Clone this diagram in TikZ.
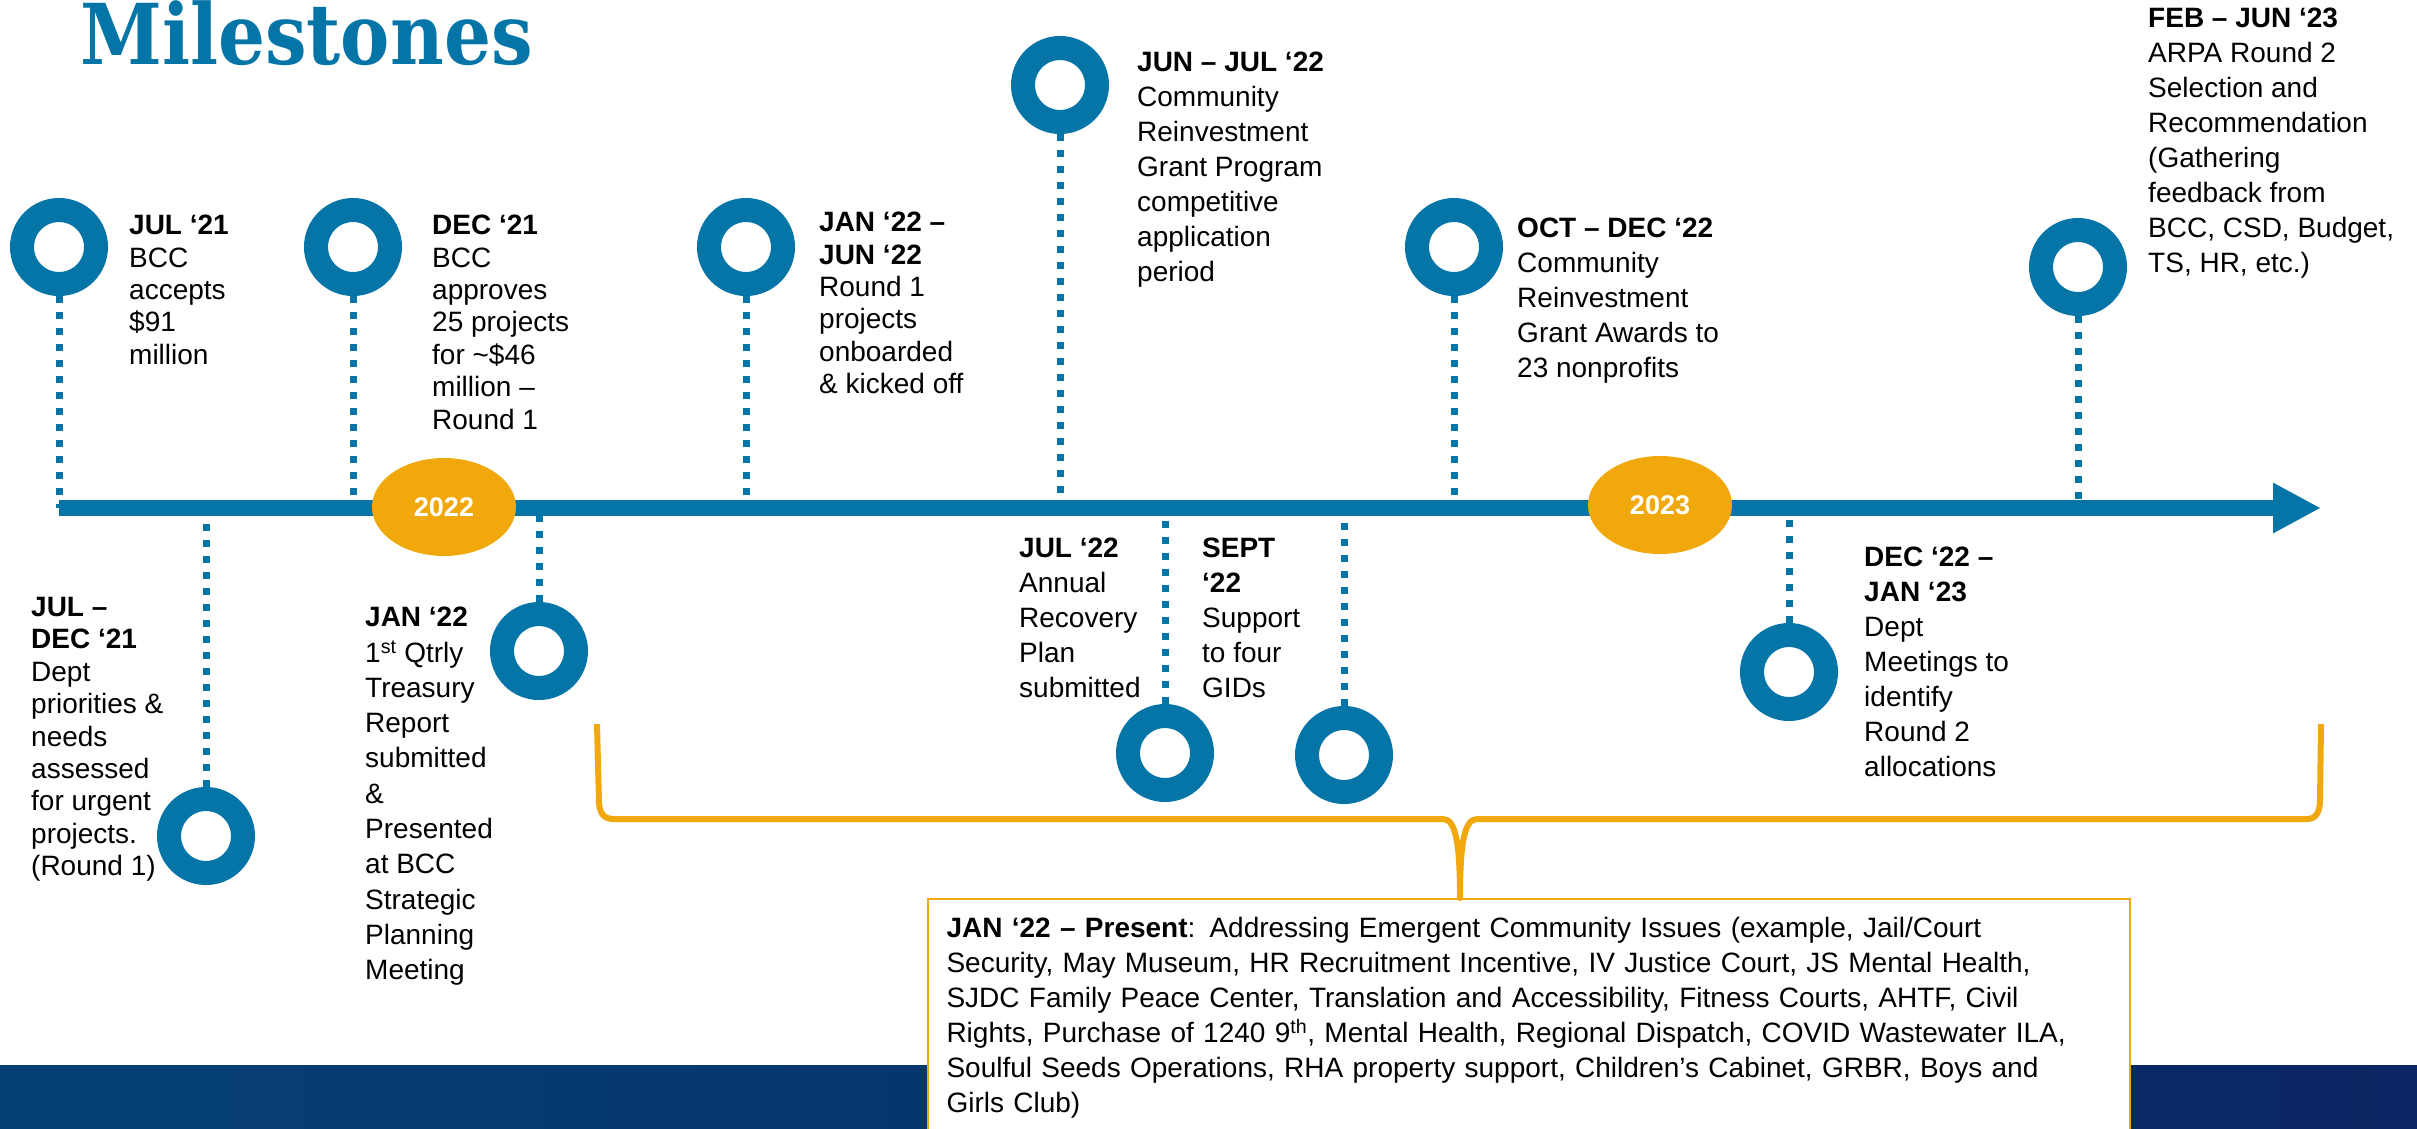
\documentclass[tikz,border=0pt]{standalone}
\usepackage{fontspec}
\setmainfont{Liberation Sans}
\newfontfamily\titlefont{DejaVu Serif}
\usepackage{graphicx}
\usetikzlibrary{calc}
\usetikzlibrary{positioning}
\usetikzlibrary{shapes.geometric}
\usetikzlibrary{arrows.meta}
\definecolor{tlblue}{RGB}{5,117,168}
\definecolor{tlgold}{RGB}{240,168,13}
\definecolor{footA}{RGB}{4,64,118}
\definecolor{footB}{RGB}{8,96,156}
\definecolor{footC}{RGB}{10,38,98}
\tikzstyle{ring} = [draw=tlblue, fill=white, circle, line width=24pt, minimum size=74pt, inner sep=0]
\tikzstyle{yearnode} = [ellipse, fill=tlgold, text=white, minimum width=144pt, minimum height=98pt, inner sep=0, font=\fontsize{27}{30}\selectfont\bfseries]
\tikzstyle{dotline} = [tlblue, line width=7pt, dash pattern=on 7pt off 9pt]
\tikzstyle{lbl} = [anchor=north west, align=left, inner sep=0, font=\fontsize{28}{35}\selectfont]
\tikzstyle{lbltight} = [lbl, font=\fontsize{28}{32.4}\selectfont]
\tikzstyle{brace} = [tlgold, line width=6pt, line join=round]
\tikzstyle{presentbox} = [draw=tlgold, line width=2pt, fill=white, align=left, text width=1165pt, inner sep=18.5pt, font=\fontsize{28}{35}\selectfont]

\begin{document}
\begin{tikzpicture}[x=1pt, y=-1pt]
    \useasboundingbox (0,0) rectangle (2417,1128);
    \shade[left color=footA, middle color=footB, right color=footC] (0,1065) rectangle (2417,1128);

    \node[anchor=base west, inner sep=0, text=tlblue, font=\titlefont\bfseries\fontsize{84}{90}\selectfont] (title) at (80,64) {\scalebox{0.88}[1]{Milestones}};

    \coordinate (tl_start) at (59,508);
    \coordinate (tl_end) at (2321,508);

    % above the line
    \node[ring] (jul21) at (59,247) {};
    \node[ring] (dec21) at (353,247) {};
    \node[ring] (jan22) at (746,247) {};
    \node[ring] (junjul22) at (1060,85) {};
    \node[ring] (octdec22) at (1454,247) {};
    \node[ring] (febjun23) at (2078,267) {};

    % below the line
    \node[ring] (juldec21) at (206,836) {};
    \node[ring] (jan22q) at (539,651) {};
    \node[ring] (jul22) at (1165,753) {};
    \node[ring] (sept22) at (1344,755) {};
    \node[ring] (decjan23) at (1789,672) {};

    \foreach \m in {jul21, dec21, jan22, junjul22, octdec22, febjun23}
        \draw[dotline] (\m.south) -- (\m.south |- tl_start);
    \foreach \m in {juldec21, jan22q, jul22, sept22, decjan23}
        \draw[dotline] (\m.north) -- (\m.north |- tl_start);

    \draw[line width=16pt, tlblue, -{Triangle[length=48pt, width=47pt]}] (tl_start) -- (tl_end);
    \node[yearnode] (y2022) at (444,507) {2022};
    \node[yearnode] (y2023) at (1660,505) {2023};

    \node[lbltight] (jul21_txt) at ($(jul21)+(70,-32)$) {\textbf{JUL ‘21}\\BCC\\accepts\\\$91\\million};
    \node[lbltight] (dec21_txt) at ($(dec21)+(79,-32)$) {\textbf{DEC ‘21}\\BCC\\approves\\25 projects\\for \textasciitilde\$46\\million –\\Round 1};
    \node[lbltight] (jan22_txt) at ($(jan22)+(73,-35)$) {\textbf{JAN ‘22 –}\\\textbf{JUN ‘22}\\Round 1\\projects\\onboarded\\\& kicked off};
    \node[lbl] (junjul22_txt) at ($(junjul22)+(77,-33)$) {\textbf{JUN – JUL ‘22}\\Community\\Reinvestment\\Grant Program\\competitive\\application\\period};
    \node[lbl] (octdec22_txt) at ($(octdec22)+(63,-29)$) {\textbf{OCT – DEC ‘22}\\Community\\Reinvestment\\Grant Awards to\\23 nonprofits};
    \node[lbl] (febjun23_txt) at (2148,8) {\textbf{FEB – JUN ‘23}\\ARPA Round 2\\Selection and\\Recommendation\\(Gathering\\feedback from\\BCC, CSD, Budget,\\TS, HR, etc.)};

    \node[lbltight] (juldec21_txt) at (31,597) {\textbf{JUL –}\\\textbf{DEC ‘21}\\Dept\\priorities \&\\needs\\assessed\\for urgent\\projects.\\(Round 1)};
    \node[lbl, font=\fontsize{28}{35.3}\selectfont] (jan22q_txt) at (365,607) {\textbf{JAN ‘22}\\1\textsuperscript{st} Qtrly\\Treasury\\Report\\submitted\\\&\\Presented\\at BCC\\Strategic\\Planning\\Meeting};
    \node[lbl] (jul22_txt) at (1019,538) {\textbf{JUL ‘22}\\Annual\\Recovery\\Plan\\submitted};
    \node[lbl] (sept22_txt) at (1202,538) {\textbf{SEPT}\\\textbf{‘22}\\Support\\to four\\GIDs};
    \node[lbl] (decjan23_txt) at ($(decjan23)+(75,-125)$) {\textbf{DEC ‘22 –}\\\textbf{JAN ‘23}\\Dept\\Meetings to\\identify\\Round 2\\allocations};

    % ongoing work
    \node[presentbox, anchor=north west] (present) at (927,898) {\textbf{JAN ‘22 – Present}: Addressing Emergent Community Issues (example, Jail/Court\\Security, May Museum, HR Recruitment Incentive, IV Justice Court, JS Mental Health,\\SJDC Family Peace Center, Translation and Accessibility, Fitness Courts, AHTF, Civil\\Rights, Purchase of 1240 9\textsuperscript{th}, Mental Health, Regional Dispatch, COVID Wastewater ILA,\\Soulful Seeds Operations, RHA property support, Children’s Cabinet, GRBR, Boys and\\Girls Club)};
    \coordinate (br_l) at (597,724);
    \coordinate (br_r) at (2321,724);
    \coordinate (br_tip) at (present.north -| 1460,0);
    \draw[brace] (br_l) -- (599,803) .. controls (600,815) and (605,819) .. (614,819) -- (1443,819)
        .. controls (1456,819) and (1460,845) .. (br_tip)
        .. controls (1460,845) and (1464,819) .. (1477,819) -- (2307,819)
        .. controls (2316,819) and (2320,812) .. (2320,800) -- (br_r);
\end{tikzpicture}
\end{document}
